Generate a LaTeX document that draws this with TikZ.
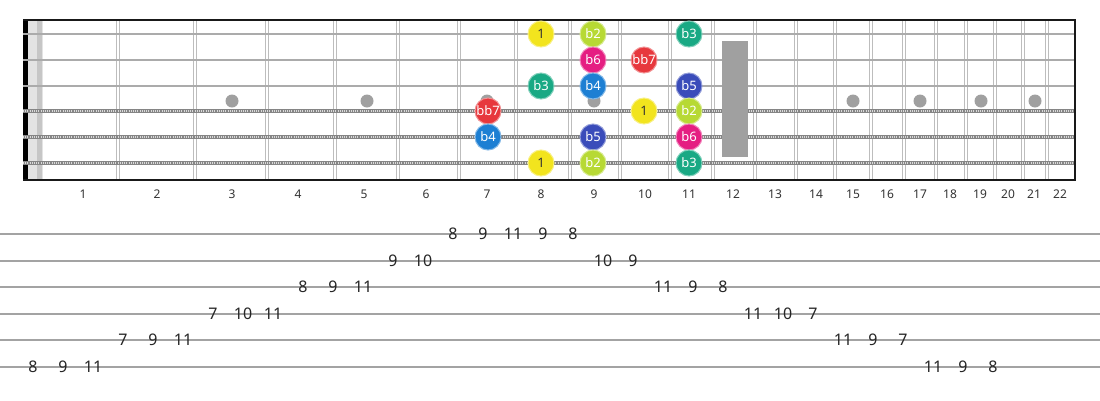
\documentclass[tikz,border=0pt]{standalone}
\usepackage{fontspec}
\setmainfont{Noto Sans}
\definecolor{fretgrey}{HTML}{BDBDBD}
\definecolor{strgrey}{HTML}{ABABAB}
\definecolor{woundgrey}{HTML}{858585}
\definecolor{inlaygrey}{HTML}{A0A0A0}
\definecolor{labelgrey}{HTML}{333333}
\definecolor{tabgrey}{HTML}{A3A3A3}
\definecolor{tabtext}{HTML}{262626}
\definecolor{nutlight}{HTML}{E3E3E3}
\definecolor{nutdark}{HTML}{C6C6C6}
\definecolor{cI}{HTML}{F2E41E}
\definecolor{cbII}{HTML}{B7D934}
\definecolor{cbIII}{HTML}{19A984}
\definecolor{cbIV}{HTML}{1D7FD3}
\definecolor{cbV}{HTML}{3A4CBA}
\definecolor{cbVI}{HTML}{E51E82}
\definecolor{cbbVII}{HTML}{E7383D}
\begin{document}
\begin{tikzpicture}[x=1pt,y=-1pt,
  fretwire/.style={draw=fretgrey,line width=1.1pt},
  plainstring/.style={draw=strgrey,line width=2.6pt},
  woundbase/.style={draw=woundgrey,line width=4.2pt},
  woundtex/.style={draw=white!85!black,line width=2pt,dash pattern=on 1pt off 1.2pt},
  inlay/.style={circle,fill=inlaygrey,minimum size=13pt,inner sep=0pt},
  border/.style={draw=black!90,line width=2pt},
  fretlbl/.style={font=\fontsize{12}{14}\selectfont,text=labelgrey,inner sep=0pt},
  tabline/.style={draw=tabgrey,line width=1.6pt},
  tabnum/.style={font=\fontsize{16}{18}\selectfont,text=tabtext,inner sep=1pt},
  note/.style={circle,minimum size=26pt,inner sep=0pt,line width=1pt,font=\fontsize{13}{15}\selectfont},
  dI/.style={note,fill=cI,draw=cI!55!white,text=black!80},
  dbII/.style={note,fill=cbII,draw=cbII!55!white,text=white},
  dbIII/.style={note,fill=cbIII,draw=cbIII!55!white,text=white},
  dbIV/.style={note,fill=cbIV,draw=cbIV!55!white,text=white},
  dbV/.style={note,fill=cbV,draw=cbV!55!white,text=white},
  dbVI/.style={note,fill=cbVI,draw=cbVI!55!white,text=white},
  dbbVII/.style={note,fill=cbbVII,draw=cbbVII!55!white,text=white},
]
\useasboundingbox (0,0) rectangle (1100,400);
\fill[white] (0,0) rectangle (1100,400);

% nut area
\fill[nutlight] (27.5,20) rectangle (43,180);
\fill[nutdark] (37,20) rectangle (42,180);
\fill[black] (23,20) rectangle (27.5,180);

% fret wires
\foreach \f in {118,195,267,335,398,459,516,570,620,670,713,755,796,835,871,904,936,966,995,1023,1047}{
  \draw[fretwire] (\f-1.6,20) -- (\f-1.6,180);
  \draw[fretwire] (\f+1.6,20) -- (\f+1.6,180);
}

% inlays
\foreach \x [count=\i] in {232,367,487,594,853,920,981,1035}
  \node[inlay] (dot\i) at (\x,101) {};

% strings
\foreach \y in {34,60,86}
  \draw[plainstring] (23,\y) -- (1075,\y);
\foreach \y in {111,137,163}{
  \draw[woundbase] (23,\y) -- (1075,\y);
  \draw[woundtex] (23,\y) -- (1075,\y);
}

% 12th fret marker
\fill[inlaygrey] (722,41) rectangle (748,157);

% borders
\draw[border] (23,20) -- (1075,20);
\draw[border] (23,180) -- (1075,180);
\draw[border] (1075,19) -- (1075,181);

% notes
\node[dI]     (n1a) at (541,34)  {1};
\node[dbII]   (n1b) at (593,34)  {b2};
\node[dbIII]  (n1c) at (689,34)  {b3};
\node[dbVI]   (n2a) at (593,60)  {b6};
\node[dbbVII] (n2b) at (644,60)  {bb7};
\node[dbIII]  (n3a) at (541,86)  {b3};
\node[dbIV]   (n3b) at (593,86)  {b4};
\node[dbV]    (n3c) at (689,86)  {b5};
\node[dbbVII] (n4a) at (488,111) {bb7};
\node[dI]     (n4b) at (644,111) {1};
\node[dbII]   (n4c) at (689,111) {b2};
\node[dbIV]   (n5a) at (488,137) {b4};
\node[dbV]    (n5b) at (593,137) {b5};
\node[dbVI]   (n5c) at (689,137) {b6};
\node[dI]     (n6a) at (541,163) {1};
\node[dbII]   (n6b) at (593,163) {b2};
\node[dbIII]  (n6c) at (689,163) {b3};

% fret numbers
\foreach \x [count=\i] in {83,157,232,298,364,426,487,541,594,645,689,733,775,816,853,887,920,950,980,1008,1034,1060}
  \node[fretlbl] (fl\i) at (\x,194) {\i};

% tab lines
\foreach \y [count=\i] in {234,261,287,314,340,367}
  \draw[tabline] (0,\y) -- (1100,\y);

% tab numbers
\foreach \k/\l/\t in {0/6/8,1/6/9,2/6/11,3/5/7,4/5/9,5/5/11,6/4/7,7/4/10,8/4/11,9/3/8,10/3/9,11/3/11,12/2/9,13/2/10,14/1/8,15/1/9,16/1/11,17/1/9,18/1/8,19/2/10,20/2/9,21/3/11,22/3/9,23/3/8,24/4/11,25/4/10,26/4/7,27/5/11,28/5/9,29/5/7,30/6/11,31/6/9,32/6/8}{
  \pgfmathsetmacro{\ty}{{234,261,287,314,340,367}[\l-1]}
  \node[tabnum] (tn\k) at (33+30*\k,\ty) {\t};
}
\end{tikzpicture}
\end{document}
